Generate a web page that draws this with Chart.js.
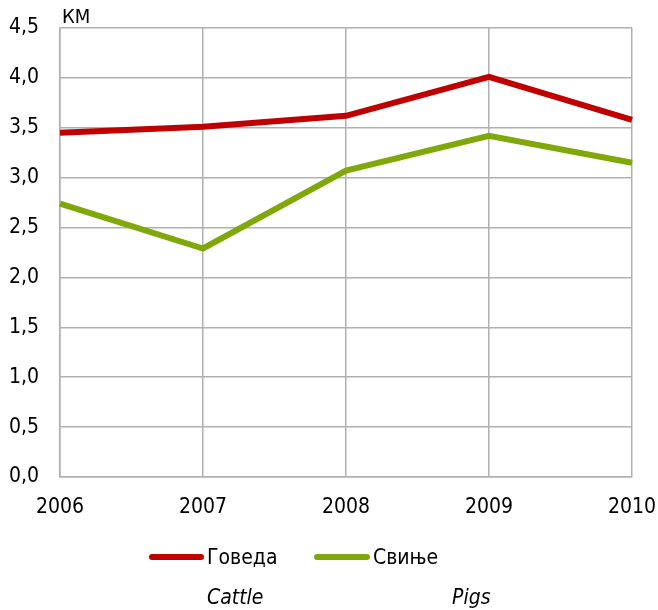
<!DOCTYPE html>
<html>
<head>
<meta charset="utf-8">
<script src="https://cdn.jsdelivr.net/npm/chart.js@4/dist/chart.umd.min.js"></script>
<style>
  html, body { margin: 0; padding: 0; background: #fff; }
  #wrap { position: relative; width: 658px; height: 610px; font-family: "DejaVu Sans Condensed", "DejaVu Sans", sans-serif; color: #000; }
  #chart { position: absolute; left: 0; top: 0; }
  .unit { position: absolute; left: 62px; top: 4px; font-size: 20px; }
  .swatch { position: absolute; height: 6px; border-radius: 3px; }
  .lbl { position: absolute; font-size: 21px; line-height: 24px; }
  .en { font-style: italic; }
</style>
</head>
<body>
<div id="wrap">
  <canvas id="chart" width="658" height="610"></canvas>
  <div class="unit">КМ</div>
  <div class="swatch" style="left:149px; top:554px; width:55px; background:#c00000;"></div>
  <div class="lbl" style="left:207px; top:545px;">Говеда</div>
  <div class="lbl en" style="left:207px; top:585px;">Cattle</div>
  <div class="swatch" style="left:314px; top:554px; width:56px; background:#80a80a;"></div>
  <div class="lbl" style="left:373px; top:545px;">Свиње</div>
  <div class="lbl en" style="left:452px; top:585px;">Pigs</div>
</div>
<script>
// ---------------- DATA ----------------
const years = ["2006", "2007", "2008", "2009", "2010"];
const cattle = [3.45, 3.51, 3.62, 4.01, 3.58];   // Говеда
const pigs = [2.74, 2.29, 3.07, 3.42, 3.15];     // Свиње

const gridColor = "#b0b0b0";
const tickFont = { family: "'DejaVu Sans Condensed', 'DejaVu Sans', sans-serif", size: 21 };

// keep the plot area fixed: no extra padding from the tick labels
function noPad(s) {
    s.paddingTop = 0;
    s.paddingRight = 0;
    s.paddingBottom = 0;
    s.paddingLeft = 0;
}

const ctx = document.getElementById("chart").getContext("2d");
const chart = new Chart(ctx, {
    type: "line",
    data: {
        labels: years,
        datasets: [
            { label: "Говеда", data: cattle, borderColor: "#c00000", borderWidth: 6, pointRadius: 0, tension: 0 },
            { label: "Свиње", data: pigs, borderColor: "#80a80a", borderWidth: 6, pointRadius: 0, tension: 0 }
        ]
    },
    options: {
        responsive: false,
        animation: false,
        devicePixelRatio: 1,
        layout: { padding: { left: 0, top: 28, right: 26, bottom: 0 } },
        plugins: { legend: { display: false }, tooltip: { enabled: false } },
        scales: {
            x: {
                offset: false,
                grid: { color: gridColor, lineWidth: 1.5, drawTicks: false },
                border: { color: gridColor, width: 1.5 },
                ticks: { color: "#000", font: tickFont, padding: 18, maxRotation: 0 },
                afterFit: (s) => { s.height = 133; noPad(s); }
            },
            y: {
                min: 0,
                max: 4.5,
                grid: { color: gridColor, lineWidth: 1.5, drawTicks: false },
                border: { color: gridColor, width: 1.5 },
                ticks: {
                    stepSize: 0.5,
                    color: "#000",
                    font: tickFont,
                    padding: 21,
                    callback: (v) => v.toFixed(1).replace(".", ",")
                },
                afterFit: (s) => { s.width = 60; noPad(s); }
            }
        }
    }
});
</script>
</body>
</html>
